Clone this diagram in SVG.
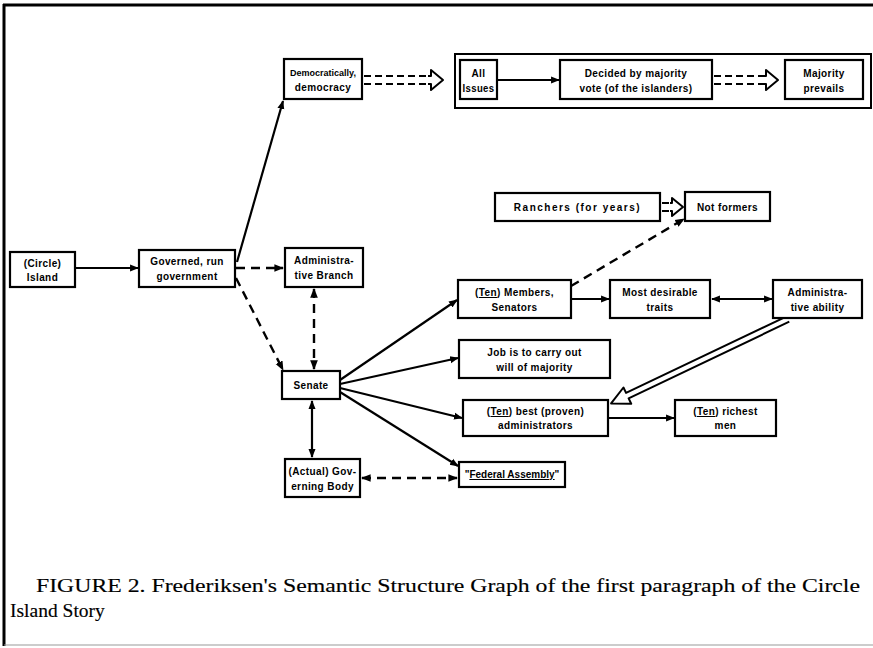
<svg xmlns="http://www.w3.org/2000/svg" width="873" height="648" viewBox="0 0 873 648">
<style>
.box{fill:#fff;stroke:#000;stroke-width:2.2}
.t{font-family:"Liberation Sans",Arial,sans-serif;font-weight:bold;font-size:10px;text-anchor:middle;fill:#000;letter-spacing:0.4px}
.u{text-decoration:underline}
.ln{stroke:#000;stroke-width:2.2;fill:none}
.dash{stroke:#000;stroke-width:2.4;fill:none;stroke-dasharray:9 6}
.dbl{stroke:#000;stroke-width:2;fill:none;stroke-dasharray:7 4}
.head{fill:#fff;stroke:#000;stroke-width:2;stroke-linejoin:round}
.cap{font-family:"Liberation Serif",serif;font-size:19.5px;fill:#000;stroke:#000;stroke-width:0.15}
</style>
<defs>
<marker id="a" viewBox="0 0 10 10" refX="9" refY="5" markerWidth="4" markerHeight="4" orient="auto-start-reverse" markerUnits="strokeWidth">
<path d="M0,1 L10,5 L0,9 Z" fill="#000"/>
</marker>
</defs>
<rect width="873" height="648" fill="#fff"/>
<line x1="3" y1="5" x2="873" y2="5" stroke="#000" stroke-width="3"/>
<line x1="4" y1="4" x2="4" y2="646" stroke="#000" stroke-width="3"/>
<line x1="4" y1="645" x2="873" y2="645" stroke="#999" stroke-width="1"/>

<g id="connectors">
<line class="ln" x1="75" y1="268" x2="138" y2="268" marker-end="url(#a)"/>
<line class="ln" x1="237" y1="262" x2="283" y2="101" marker-end="url(#a)"/>
<line class="dash" x1="236" y1="268" x2="283" y2="268" marker-end="url(#a)"/>
<line class="dash" x1="236" y1="278" x2="283" y2="370" marker-end="url(#a)"/>
<line class="dash" x1="314" y1="289" x2="314" y2="369" marker-start="url(#a)" marker-end="url(#a)"/>
<line class="ln" x1="312" y1="401" x2="312" y2="457" marker-start="url(#a)" marker-end="url(#a)"/>
<line class="ln" x1="340" y1="380" x2="457" y2="300" marker-end="url(#a)"/>
<line class="ln" x1="340" y1="384" x2="458" y2="358" marker-end="url(#a)"/>
<line class="ln" x1="340" y1="388" x2="462" y2="418" marker-end="url(#a)"/>
<line class="ln" x1="340" y1="392" x2="458" y2="466" marker-end="url(#a)"/>
<line class="dash" x1="362" y1="478" x2="457" y2="478" marker-start="url(#a)" marker-end="url(#a)"/>
<line class="ln" x1="571" y1="299" x2="609" y2="299" marker-end="url(#a)"/>
<line class="ln" x1="712" y1="299" x2="772" y2="299" marker-start="url(#a)" marker-end="url(#a)"/>
<line class="dash" x1="571" y1="286" x2="684" y2="219" marker-end="url(#a)"/>
<line class="ln" x1="608" y1="418" x2="674" y2="418" marker-end="url(#a)"/>
<line class="ln" x1="497" y1="80" x2="559" y2="80" marker-end="url(#a)"/>
<g>
<line class="dbl" x1="364" y1="76" x2="431" y2="76"/>
<line class="dbl" x1="364" y1="84" x2="431" y2="84"/>
<path class="head" d="M428,76 L431,76 L431,70 L443,80 L431,90 L431,84 L428,84"/>
</g>
<g>
<line class="dbl" x1="714" y1="76" x2="766" y2="76"/>
<line class="dbl" x1="714" y1="84" x2="766" y2="84"/>
<path class="head" d="M763,76 L766,76 L766,70 L778,80 L766,90 L766,84 L763,84"/>
</g>
<g>
<line class="dbl" x1="662" y1="203" x2="672" y2="203" stroke-dasharray="none"/>
<line class="dbl" x1="662" y1="211" x2="672" y2="211" stroke-dasharray="none"/>
<path class="head" d="M670,203 L672,203 L672,198 L683,207 L672,216 L672,211 L670,211"/>
</g>
<g transform="translate(788,319) rotate(154.5)">
<path class="head" d="M0,-3 L178,-3 L178,-9 L196,0 L178,9 L178,3 L0,3"/>
</g>
</g>

<g id="n-demo"><rect class="box" x="284" y="59" width="78" height="40"/><text class="t" x="323" y="76" style="font-size:9px;letter-spacing:0">Democratically,</text><text class="t" x="323" y="91">democracy</text></g>
<g id="n-container"><rect x="455" y="54" width="416" height="54" fill="none" stroke="#000" stroke-width="2"/></g>
<g id="n-all"><rect class="box" x="460" y="60" width="37" height="39"/><text class="t" x="478.5" y="77">All</text><text class="t" x="478.5" y="92" textLength="32" lengthAdjust="spacingAndGlyphs">Issues</text></g>
<g id="n-decided"><rect class="box" x="560" y="60" width="152" height="39"/><text class="t" x="636" y="77">Decided by majority</text><text class="t" x="636" y="92">vote (of the islanders)</text></g>
<g id="n-majority"><rect class="box" x="785" y="60" width="78" height="39"/><text class="t" x="824" y="77">Majority</text><text class="t" x="824" y="92">prevails</text></g>
<g id="n-circle"><rect class="box" x="10" y="252" width="65" height="35"/><text class="t" x="42.5" y="267">(Circle)</text><text class="t" x="42.5" y="281">Island</text></g>
<g id="n-governed"><rect class="box" x="139" y="250" width="96" height="37"/><text class="t" x="187" y="265">Governed, run</text><text class="t" x="187" y="280">government</text></g>
<g id="n-adminbranch"><rect class="box" x="285" y="248" width="78" height="39"/><text class="t" x="324" y="264">Administra-</text><text class="t" x="324" y="279">tive Branch</text></g>
<g id="n-ranchers"><rect class="box" x="495" y="193" width="165" height="28"/><text class="t" x="577.5" y="211" style="letter-spacing:1.5px">Ranchers (for years)</text></g>
<g id="n-notformers"><rect class="box" x="685" y="192" width="85" height="29"/><text class="t" x="727.5" y="211">Not formers</text></g>
<g id="n-members"><rect class="box" x="458" y="280" width="113" height="38"/><text class="t" x="514.5" y="296">(<tspan class="u">Ten</tspan>) Members,</text><text class="t" x="514.5" y="311">Senators</text></g>
<g id="n-traits"><rect class="box" x="610" y="280" width="100" height="38"/><text class="t" x="660" y="296">Most desirable</text><text class="t" x="660" y="311">traits</text></g>
<g id="n-ability"><rect class="box" x="773" y="280" width="89" height="38"/><text class="t" x="817.5" y="296">Administra-</text><text class="t" x="817.5" y="311">tive ability</text></g>
<g id="n-job"><rect class="box" x="459" y="340" width="151" height="38"/><text class="t" x="534.5" y="356">Job is to carry out</text><text class="t" x="534.5" y="371">will of majority</text></g>
<g id="n-senate"><rect class="box" x="282" y="371" width="58" height="28"/><text class="t" x="311" y="389">Senate</text></g>
<g id="n-best"><rect class="box" x="463" y="400" width="145" height="36"/><text class="t" x="535.5" y="415">(<tspan class="u">Ten</tspan>) best (proven)</text><text class="t" x="535.5" y="429">administrators</text></g>
<g id="n-richest"><rect class="box" x="675" y="400" width="101" height="36"/><text class="t" x="725.5" y="415">(<tspan class="u">Ten</tspan>) richest</text><text class="t" x="725.5" y="429">men</text></g>
<g id="n-actual"><rect class="box" x="285" y="459" width="75" height="38"/><text class="t" x="322.5" y="475">(Actual) Gov-</text><text class="t" x="322.5" y="490">erning Body</text></g>
<g id="n-federal"><rect class="box" x="459" y="462" width="106" height="25"/><text class="t" x="512" y="478" style="letter-spacing:0">"<tspan class="u">Federal Assembly</tspan>"</text></g>

<text class="cap" x="36" y="592" textLength="824" lengthAdjust="spacingAndGlyphs">FIGURE 2. Frederiksen's Semantic Structure Graph of the first paragraph of the Circle</text>
<text class="cap" x="10" y="617">Island Story</text>
</svg>
